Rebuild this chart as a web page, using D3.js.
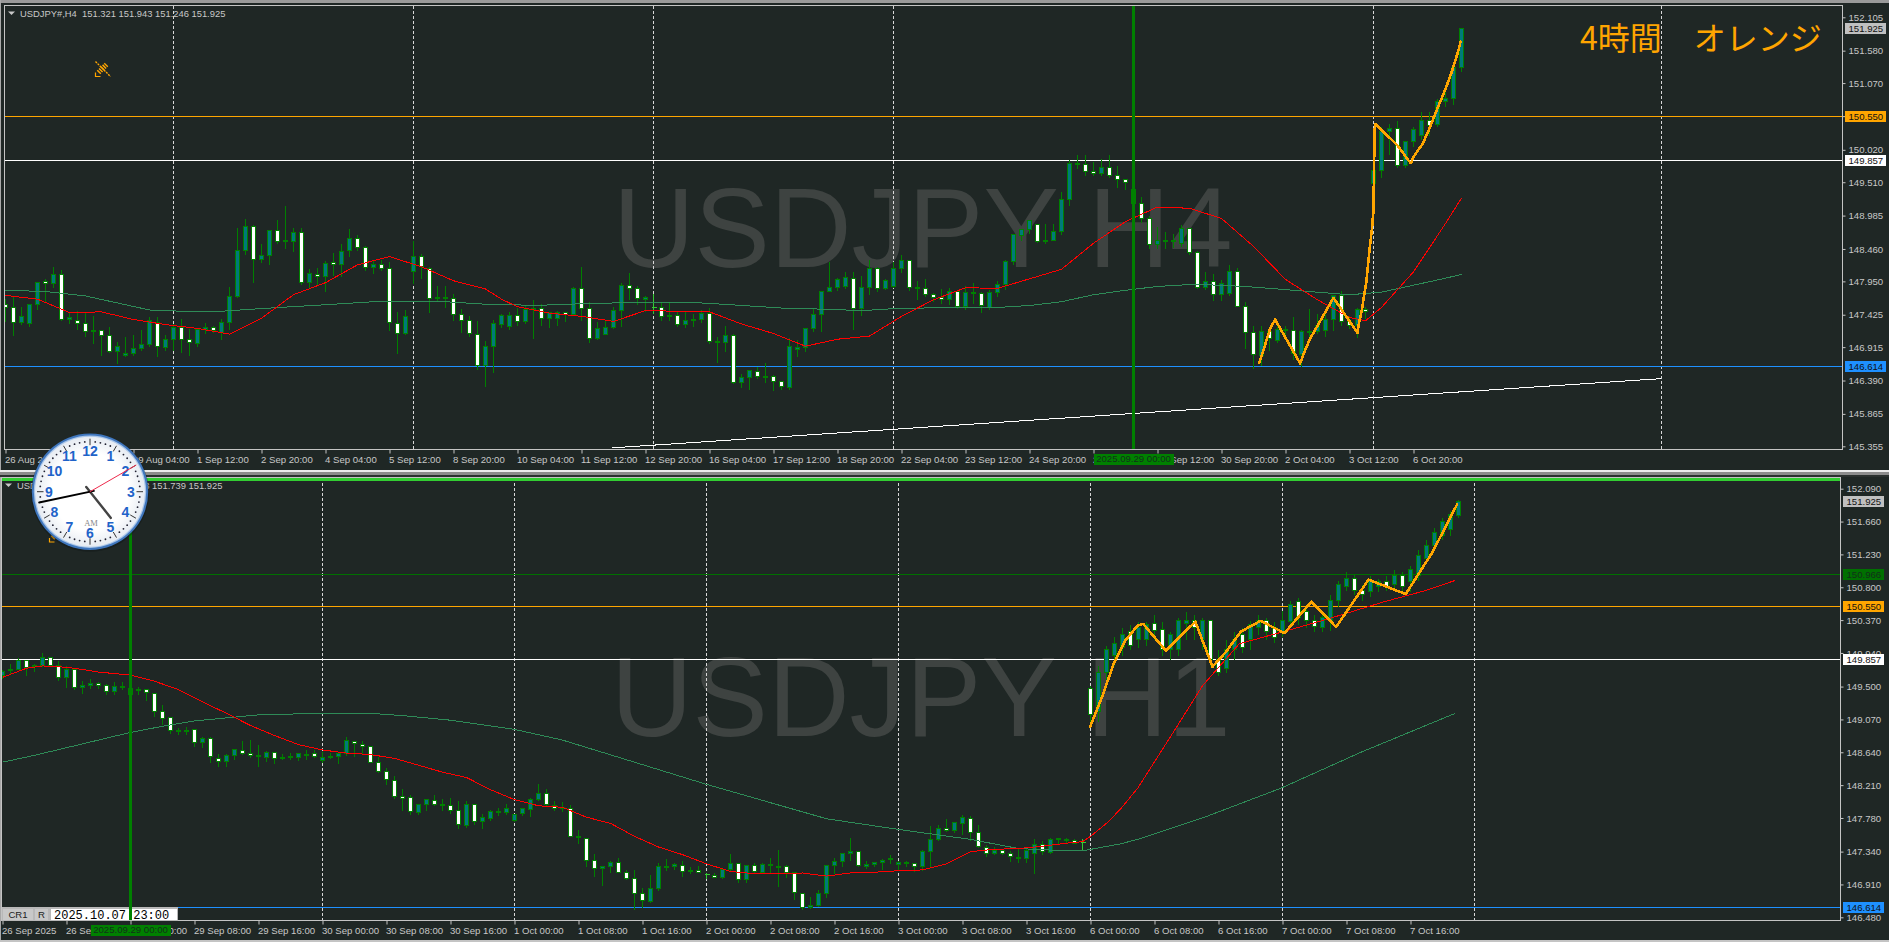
<!DOCTYPE html>
<html><head><meta charset="utf-8"><title>USDJPY H4 / H1</title>
<script src="https://cdn.jsdelivr.net/npm/d3@7"></script>
<style>
html,body{margin:0;padding:0;background:#1f2725;overflow:hidden}
svg{display:block}
text{font-family:"Liberation Sans",Arial,sans-serif}
</style></head><body><svg id="c" width="1889" height="942"></svg>
<script>
// ---- H4 panel: [open, high, low, close] per bar
const h4Candles=[
[147.58,147.68,147.32,147.54],[147.54,147.72,147.10,147.31],[147.30,147.55,147.27,147.40],[147.29,147.59,147.24,147.59],[147.59,147.95,147.50,147.94],[147.95,148.00,147.63,147.92],[147.92,148.19,147.86,148.06],[148.06,148.13,147.33,147.35],[147.35,147.47,147.28,147.38],[147.33,147.49,147.19,147.29],
[147.29,147.46,147.08,147.16],[147.16,147.41,146.98,147.18],[147.18,147.19,146.79,147.10],[147.10,147.24,146.83,146.85],[146.85,147.00,146.66,146.93],[146.78,147.09,146.77,146.82],[146.82,147.12,146.78,146.90],[146.89,147.20,146.87,146.96],[146.95,147.40,146.93,147.33],[147.31,147.39,146.77,146.92],
[146.91,147.11,146.87,147.04],[147.04,147.28,146.87,147.23],[147.22,147.37,146.83,147.04],[147.03,147.21,146.78,146.99],[146.98,147.23,146.92,147.19],[147.19,147.31,147.13,147.23],[147.22,147.25,147.14,147.18],[147.15,147.37,147.03,147.31],[147.31,147.87,147.20,147.71],[147.71,148.79,147.70,148.43],
[148.44,148.94,148.37,148.81],[148.81,148.85,147.93,148.30],[148.30,148.54,148.25,148.35],[148.35,148.77,148.22,148.75],[148.75,148.93,148.55,148.58],[148.58,149.14,148.47,148.59],[148.58,148.80,148.42,148.72],[148.72,148.80,147.90,147.94],[147.94,148.16,147.86,148.07],[148.06,148.17,147.89,148.03],
[148.03,148.28,147.79,148.23],[148.24,148.41,148.05,148.22],[148.21,148.54,148.02,148.42],[148.44,148.78,148.34,148.62],[148.62,148.68,148.43,148.49],[148.48,148.52,148.12,148.17],[148.17,148.28,148.07,148.22],[148.21,148.29,148.12,148.16],[148.15,148.26,147.18,147.30],[147.29,147.47,146.82,147.13],
[147.13,147.51,147.12,147.40],[148.11,148.59,147.91,148.34],[148.34,148.39,148.00,148.18],[148.15,148.19,147.46,147.68],[147.68,147.88,147.63,147.70],[147.68,147.88,147.54,147.70],[147.68,147.76,147.33,147.43],[147.43,147.53,147.14,147.34],[147.33,147.41,147.08,147.13],[147.12,147.34,146.56,146.63],
[146.63,147.02,146.30,146.92],[146.92,147.35,146.51,147.28],[147.27,147.45,147.23,147.42],[147.24,147.48,147.20,147.42],[147.41,147.54,147.26,147.32],[147.32,147.59,147.28,147.50],[147.50,147.66,147.05,147.52],[147.52,147.60,147.25,147.37],[147.37,147.47,147.23,147.46],[147.36,147.49,147.26,147.46],
[147.46,147.47,147.32,147.43],[147.43,147.87,147.41,147.84],[147.84,148.19,147.34,147.53],[147.52,147.63,146.99,147.05],[147.05,147.32,147.04,147.21],[147.12,147.34,147.11,147.23],[147.22,147.55,147.21,147.49],[147.49,147.93,147.24,147.89],[147.88,148.09,147.67,147.84],[147.84,147.89,147.58,147.68],
[147.66,147.72,147.47,147.69],[147.54,147.76,147.45,147.54],[147.54,147.62,147.33,147.40],[147.39,147.62,147.34,147.41],[147.41,147.47,147.24,147.27],[147.27,147.47,147.23,147.34],[147.34,147.44,147.24,147.35],[147.35,147.50,147.30,147.45],[147.44,147.54,146.98,147.01],[146.99,147.09,146.68,147.01],
[146.99,147.26,146.85,147.10],[147.10,147.13,146.35,146.36],[146.36,146.50,146.28,146.44],[146.44,146.57,146.25,146.54],[146.53,146.61,146.42,146.46],[146.45,146.68,146.36,146.46],[146.45,146.48,146.24,146.38],[146.37,146.39,146.25,146.29],[146.28,147.06,146.25,146.93],[146.88,147.03,146.77,146.91],
[146.91,147.21,146.84,147.21],[147.21,147.52,147.16,147.43],[147.43,147.80,147.16,147.79],[147.79,148.26,147.79,147.86],[147.86,148.01,147.80,147.98],[147.87,148.10,147.84,148.01],[147.99,148.10,147.19,147.53],[147.53,148.04,147.41,147.85],[147.85,148.29,147.74,148.16],[148.15,148.18,147.79,147.84],
[147.84,148.00,147.82,147.97],[147.87,148.26,147.85,148.16],[148.15,148.38,148.09,148.28],[148.28,148.30,147.80,147.86],[147.84,147.96,147.66,147.86],[147.84,147.99,147.71,147.75],[147.74,147.77,147.64,147.70],[147.69,147.83,147.60,147.67],[147.67,147.86,147.59,147.79],[147.79,147.81,147.53,147.55],
[147.55,147.89,147.51,147.78],[147.76,147.93,147.60,147.78],[147.76,147.79,147.46,147.57],[147.54,147.82,147.51,147.78],[147.77,147.96,147.71,147.90],[147.90,148.29,147.82,148.27],[148.26,148.71,148.21,148.68],[148.67,148.78,148.59,148.77],[148.76,148.92,148.70,148.90],[148.84,148.84,148.56,148.57],
[148.58,148.86,148.55,148.59],[148.59,148.86,148.59,148.74],[148.73,149.36,148.68,149.24],[149.24,149.87,149.14,149.81],[149.79,149.94,149.72,149.81],[149.79,149.95,149.62,149.68],[149.68,149.84,149.62,149.64],[149.64,149.89,149.61,149.74],[149.74,149.95,149.58,149.62],[149.61,149.78,149.42,149.56],
[149.55,149.57,149.39,149.51],[149.40,149.40,149.18,149.18],[149.17,149.28,148.87,148.94],[148.94,148.98,148.46,148.53],[148.53,148.81,148.47,148.59],[148.58,148.74,148.47,148.60],[148.58,148.70,148.49,148.60],[148.55,148.85,148.50,148.78],[148.78,148.79,148.38,148.41],[148.40,148.44,147.84,147.86],
[147.86,148.10,147.82,147.95],[147.95,148.07,147.65,147.75],[147.74,147.98,147.65,147.91],[147.76,148.22,147.72,148.10],[148.10,148.17,147.55,147.56],[147.55,147.64,146.89,147.15],[147.14,147.26,146.58,146.80],[146.79,147.26,146.62,147.16],[147.16,147.21,146.87,147.05],[147.02,147.34,146.99,147.20],
[147.19,147.26,147.03,147.20],[147.18,147.40,146.72,146.82],[146.80,147.20,146.61,147.16],[147.15,147.52,147.03,147.16],[147.16,147.45,147.13,147.26],[147.18,147.45,147.08,147.35],[147.35,147.74,147.18,147.72],[147.72,147.81,147.26,147.32],[147.32,147.41,147.21,147.26],[147.26,147.54,147.06,147.51],
[147.50,147.55,147.37,147.48],[149.49,149.73,149.47,149.70],[149.69,150.39,149.58,150.31],[150.31,150.44,149.94,150.36],[150.35,150.48,149.74,149.78],[149.77,150.17,149.74,150.15],[150.15,150.39,150.07,150.34],[150.24,150.62,150.18,150.48],[150.48,150.62,150.24,150.41],[150.42,150.83,150.39,150.78],
[150.78,151.02,150.70,150.83],[150.83,151.41,150.73,151.31],[151.321,151.943,151.246,151.925]];
const h4RedIdx=[0,4,8,12,16,20,24,28,32,36,40,44,48,52,56,60,62,64,68,72,76,80,84,88,92,96,100,104,108,112,116,120,124,128,132,136,140,144,148,152,156,160,164,168,170,172,176,180,182];
const h4RedVal=[147.73,147.67,147.46,147.47,147.35,147.27,147.21,147.12,147.37,147.74,147.93,148.21,148.34,148.18,147.96,147.83,147.67,147.55,147.45,147.40,147.32,147.49,147.48,147.47,147.28,147.13,146.93,147.04,147.09,147.40,147.66,147.85,147.84,147.99,148.14,148.55,148.89,149.12,149.10,148.94,148.50,147.98,147.66,147.38,147.33,147.54,148.10,148.86,149.26];
const h4GreenIdx=[0,5,10,14,18,22,27,33,41,46,55,60,62,66,70,76,79,87,91,97,103,107,111,118,124,128,132,136,140,144,148,152,156,160,164,168,172,176,180,182];
const h4GreenVal=[147.81,147.79,147.72,147.61,147.50,147.48,147.48,147.53,147.59,147.63,147.63,147.59,147.59,147.57,147.59,147.61,147.62,147.61,147.58,147.53,147.51,147.49,147.52,147.54,147.54,147.57,147.63,147.74,147.81,147.87,147.90,147.89,147.86,147.82,147.78,147.74,147.78,147.89,148.00,148.06];
const h4ZigIdx=[156.67,157.25,158.08,158.71,159.33,161.83,162.46,163.08,166,169,169.17,169.5,170.08,170.5,170.83,171,171.13,171.2,174,175.33,175.67,176,177.17,178.08,178.92,180.04,180.79,181.63,181.92];
const h4ZigVal=[146.65,146.87,147.21,147.35,147.21,146.66,146.87,147.05,147.69,147.14,147.28,147.47,147.92,148.44,148.81,149.07,150.28,150.43,150.09,149.86,149.81,149.91,150.12,150.38,150.65,150.99,151.25,151.59,151.74];
const h4TrendIdx=[75.8,207];
const h4TrendVal=[145.33,146.42];
const h4PriceTicks=[152.105,151.58,151.07,150.55,150.02,149.51,148.985,148.46,147.95,147.425,146.915,146.39,145.865,145.355];
const h4TimeLabels=["26 Aug 2025","28 Aug 12:00","29 Aug 04:00","1 Sep 12:00","2 Sep 20:00","4 Sep 04:00","5 Sep 12:00","8 Sep 20:00","10 Sep 04:00","11 Sep 12:00","12 Sep 20:00","16 Sep 04:00","17 Sep 12:00","18 Sep 20:00","22 Sep 04:00","23 Sep 12:00","24 Sep 20:00","26 Sep 04:00","29 Sep 12:00","30 Sep 20:00","2 Oct 04:00","3 Oct 12:00","6 Oct 20:00"];
const h4Grid=[21,51,81,111,141,171,207];
// ---- H1 panel: [open, high, low, close] per bar
const h1Candles=[
[149.64,149.72,149.61,149.70],[149.71,149.80,149.67,149.72],[149.73,149.88,149.72,149.84],[149.84,149.85,149.64,149.75],[149.76,149.80,149.70,149.78],[149.77,149.95,149.76,149.88],[149.88,149.89,149.76,149.78],[149.77,149.84,149.58,149.62],[149.62,149.78,149.49,149.73],[149.73,149.73,149.46,149.49],
[149.49,149.58,149.41,149.52],[149.51,149.60,149.48,149.54],[149.54,149.56,149.47,149.52],[149.51,149.54,149.39,149.44],[149.43,149.56,149.40,149.50],[149.49,149.56,149.46,149.50],[149.48,149.50,149.39,149.40],[149.45,149.50,149.39,149.46],[149.46,149.47,149.32,149.42],[149.41,149.41,149.11,149.18],
[149.17,149.27,149.00,149.08],[149.09,149.10,148.89,148.93],[148.92,148.97,148.87,148.93],[148.92,148.98,148.87,148.93],[148.94,148.94,148.72,148.77],[148.77,148.84,148.70,148.82],[148.82,148.84,148.50,148.58],[148.56,148.63,148.46,148.52],[148.52,148.63,148.46,148.60],[148.60,148.69,148.55,148.67],
[148.66,148.80,148.61,148.63],[148.62,148.81,148.57,148.60],[148.60,148.74,148.46,148.58],[148.57,148.66,148.52,148.64],[148.64,148.65,148.49,148.56],[148.56,148.62,148.54,148.57],[148.57,148.64,148.54,148.58],[148.57,148.64,148.53,148.63],[148.60,148.67,148.54,148.61],[148.63,148.68,148.57,148.59],
[148.53,148.65,148.50,148.57],[148.57,148.64,148.56,148.59],[148.58,148.64,148.49,148.62],[148.62,148.84,148.60,148.79],[148.78,148.79,148.59,148.75],[148.74,148.80,148.61,148.71],[148.71,148.72,148.50,148.51],[148.50,148.59,148.37,148.39],[148.39,148.44,148.22,148.29],[148.27,148.34,148.03,148.06],
[148.06,148.17,147.88,148.04],[148.05,148.09,147.83,147.86],[147.85,147.97,147.82,147.96],[147.96,148.03,147.88,148.02],[148.01,148.09,147.94,147.96],[147.95,148.03,147.88,147.96],[147.94,148.05,147.84,147.88],[147.88,148.01,147.64,147.69],[147.68,148.01,147.65,147.96],[147.95,147.96,147.69,147.74],
[147.73,147.84,147.64,147.78],[147.77,147.89,147.75,147.87],[147.85,147.92,147.81,147.87],[147.85,147.97,147.83,147.91],[147.75,147.84,147.73,147.83],[147.84,147.92,147.81,147.91],[147.89,148.05,147.80,148.02],[148.02,148.23,148.01,148.10],[148.10,148.16,147.93,147.95],[147.94,148.01,147.88,147.91],
[147.90,148.00,147.86,147.92],[147.91,147.95,147.54,147.54],[147.53,147.63,147.44,147.54],[147.51,147.52,147.15,147.23],[147.22,147.32,147.01,147.12],[147.12,147.15,146.89,147.15],[147.14,147.22,147.06,147.20],[147.20,147.26,147.06,147.07],[147.07,147.11,146.98,146.99],[146.99,147.11,146.58,146.79],
[146.79,146.87,146.61,146.70],[146.69,147.04,146.67,146.86],[146.86,147.20,146.83,147.14],[147.14,147.25,147.09,147.15],[147.14,147.20,147.10,147.17],[147.16,147.22,147.01,147.08],[147.08,147.15,147.05,147.09],[147.09,147.16,147.06,147.07],[147.035,147.07,146.99,147.035],[147.03,147.06,147.00,147.00],
[147.00,147.11,146.99,147.10],[147.10,147.32,147.09,147.19],[147.18,147.20,146.94,146.98],[146.98,147.17,146.94,147.16],[147.16,147.20,147.06,147.08],[147.07,147.20,147.06,147.17],[147.16,147.26,147.05,147.17],[147.14,147.37,146.88,147.15],[147.14,147.17,147.00,147.07],[147.06,147.07,146.71,146.80],
[146.79,146.80,146.58,146.61],[146.61,146.75,146.60,146.64],[146.63,146.85,146.62,146.79],[146.79,147.17,146.74,147.16],[147.16,147.26,147.05,147.21],[147.21,147.33,147.14,147.32],[147.32,147.52,147.22,147.34],[147.34,147.35,147.15,147.16],[147.15,147.22,147.12,147.17],[147.17,147.21,147.15,147.20],
[147.20,147.25,147.11,147.23],[147.24,147.30,147.18,147.25],[147.17,147.22,147.10,147.20],[147.18,147.23,147.15,147.20],[147.18,147.20,147.08,147.15],[147.14,147.37,147.09,147.34],[147.34,147.68,147.15,147.50],[147.50,147.69,147.49,147.64],[147.64,147.77,147.60,147.62],[147.61,147.74,147.59,147.72],
[147.71,147.82,147.57,147.78],[147.77,147.81,147.49,147.59],[147.59,147.70,147.40,147.41],[147.40,147.43,147.27,147.32],[147.31,147.41,147.30,147.35],[147.35,147.38,147.30,147.32],[147.31,147.36,147.21,147.27],[147.25,147.40,147.20,147.26],[147.25,147.41,147.20,147.35],[147.31,147.51,147.05,147.43],
[147.43,147.49,147.30,147.34],[147.33,147.52,147.32,147.50],[147.50,147.51,147.44,147.51],[147.48,147.53,147.45,147.50],[147.48,147.51,147.44,147.45],[147.46,147.51,147.36,147.46],[149.48,149.51,148.98,149.14],[149.17,149.78,149.04,149.69],[149.69,150.04,149.56,149.98],[149.91,150.16,149.78,150.07],
[150.01,150.27,149.91,150.18],[150.22,150.31,149.98,150.04],[150.11,150.35,150.01,150.27],[150.11,150.35,150.04,150.31],[150.32,150.44,150.11,150.24],[150.25,150.35,149.91,149.98],[149.98,150.22,149.85,150.18],[149.98,150.40,149.91,150.37],[150.33,150.48,150.11,150.36],[150.36,150.44,150.11,150.27],
[150.11,150.41,149.98,150.37],[150.36,150.38,149.78,149.85],[149.85,149.98,149.65,149.69],[149.74,150.11,149.69,149.98],[149.98,150.22,149.85,150.11],[150.18,150.27,149.95,150.01],[150.11,150.37,149.98,150.31],[150.27,150.44,150.18,150.37],[150.36,150.40,150.11,150.22],[150.27,150.35,150.08,150.14],
[150.22,150.50,150.16,150.37],[150.35,150.63,150.27,150.57],[150.61,150.66,150.31,150.40],[150.48,150.57,150.27,150.37],[150.37,150.44,150.22,150.28],[150.27,150.48,150.22,150.40],[150.37,150.70,150.24,150.63],[150.63,150.89,150.55,150.83],[150.81,151.00,150.76,150.92],[150.92,150.97,150.70,150.76],
[150.76,150.83,150.63,150.71],[150.74,150.95,150.68,150.89],[150.81,150.92,150.74,150.87],[150.87,150.95,150.76,150.81],[150.84,151.03,150.76,150.95],[150.95,151.00,150.76,150.81],[150.87,151.09,150.74,151.03],[150.96,151.29,150.89,151.22],[151.18,151.42,151.13,151.35],[151.34,151.58,151.29,151.52],
[151.48,151.71,151.42,151.66],[151.55,151.81,151.48,151.75],[151.739,151.943,151.71,151.925]];
const h1RedIdx=[0,3,5,7,9,12,16,19,22,25,28,31,34,37,40,43,46,49,52,55,58,61,64,67,70,73,76,79,82,85,88,91,94,97,100,103,106,109,112,115,118,121,124,127,130,133,135,136,138,139.7,141.9,146.4,150,154.6,159.8,165.2,172.7,178,181.6];
const h1RedVal=[149.62,149.74,149.77,149.76,149.74,149.69,149.65,149.57,149.46,149.30,149.15,148.99,148.86,148.74,148.67,148.63,148.61,148.56,148.47,148.38,148.31,148.15,148.02,147.94,147.92,147.79,147.71,147.54,147.40,147.30,147.18,147.08,147.05,147.05,147.06,147.02,147.06,147.07,147.09,147.10,147.18,147.34,147.37,147.38,147.41,147.45,147.47,147.54,147.71,147.89,148.17,148.91,149.51,150.06,150.21,150.37,150.61,150.76,150.89];
const h1GreenIdx=[0,4,8,16,20,24,28,32,40,46,50,56,64,70,79,88,97,103,112,121,127,133,135,139.7,141.9,150,159.8,169.8,181.6];
const h1GreenVal=[148.51,148.60,148.70,148.90,148.98,149.05,149.09,149.13,149.15,149.15,149.12,149.06,148.94,148.80,148.51,148.22,147.95,147.77,147.63,147.50,147.38,147.35,147.35,147.44,147.50,147.78,148.17,148.64,149.15];
const h1ZigIdx=[135.9,137.4,138.9,140.4,141.9,142.6,145.4,149.1,151.25,152.9,154.8,157.25,160.25,163.6,166.7,170.75,175.4,178.75,181.9];
const h1ZigVal=[148.96,149.35,149.80,150.11,150.30,150.32,149.97,150.35,149.76,149.95,150.22,150.36,150.20,150.61,150.28,150.90,150.71,151.26,151.90];
const h1PriceTicks=[152.09,151.66,151.23,150.8,150.37,149.94,149.5,149.07,148.64,148.21,147.78,147.34,146.91,146.48];
const h1TimeLabels=["26 Sep 2025","26 Sep 16:00","29 Sep 00:00","29 Sep 08:00","29 Sep 16:00","30 Sep 00:00","30 Sep 08:00","30 Sep 16:00","1 Oct 00:00","1 Oct 08:00","1 Oct 16:00","2 Oct 00:00","2 Oct 08:00","2 Oct 16:00","3 Oct 00:00","3 Oct 08:00","3 Oct 16:00","6 Oct 00:00","6 Oct 08:00","6 Oct 16:00","7 Oct 00:00","7 Oct 08:00","7 Oct 16:00"];
const h1Grid=[40,64,88,112,136,160,184];
const clockHours=[1,2,3,4,5,6,7,8,9,10,11,12];
const clockTime=[4,43,10];

const COL={bg:"#1f2725",frame:"#c4c4c4",text:"#c8c8c8",green:"#008000",teal:"#007a7a",lime:"#32cd32",orange:"#ffa500",blue:"#1e90ff",red:"#ff0000",ma:"#2e8b57",wm:"#3e4341"};
const svg=d3.select("#c");
svg.append("rect").attr("width",1889).attr("height",942).attr("fill",COL.bg);

function px(v){return Math.round(v-0.5)+0.5;}

function panel(o){
  const x=d3.scaleLinear().domain([0,1]).range([o.x0,o.x0+8]);
  const y=d3.scaleLinear().domain(o.priceDomain).range(o.priceRange);
  const clipId="clip"+o.id;
  svg.append("clipPath").attr("id",clipId).append("rect").attr("x",o.left).attr("y",o.top).attr("width",o.right-o.left).attr("height",o.bottom-o.top);
  const g=svg.append("g").attr("clip-path","url(#"+clipId+")");
  // watermark
  g.append("text").attr("x",o.wmX).attr("y",o.wmY).attr("font-size",113).attr("fill",COL.wm).text(o.wm);
  // grid
  g.append("g").selectAll("line").data(o.grid).join("line")
    .attr("x1",d=>x(d)).attr("x2",d=>x(d)).attr("y1",o.top).attr("y2",o.bottom)
    .attr("stroke","#d8d8d8").attr("stroke-dasharray","3,2").attr("shape-rendering","crispEdges");
  // horizontal level lines (the last-price marker has a badge only)
  g.append("g").selectAll("line").data(o.levels.filter(d=>!d.badgeOnly)).join("line")
    .attr("x1",o.left).attr("x2",o.right).attr("y1",d=>px(y(d.p))).attr("y2",d=>px(y(d.p)))
    .attr("stroke",d=>d.bg).attr("shape-rendering","crispEdges");
  // candles
  const c=g.append("g").selectAll("g").data(o.candles).join("g").attr("shape-rendering","crispEdges");
  c.append("line").attr("x1",(d,i)=>x(i)).attr("x2",(d,i)=>x(i))
    .attr("y1",d=>px(y(d[1]))).attr("y2",d=>px(y(d[2])))
    .attr("stroke",d=>d[0]===d[3]?COL.lime:COL.green);
  c.filter(d=>d[0]===d[3]).append("line")
    .attr("x1",function(){const i=o.candles.indexOf(d3.select(this).datum());return x(i)-2;})
    .attr("x2",function(){const i=o.candles.indexOf(d3.select(this).datum());return x(i)+3;})
    .attr("y1",d=>px(y(d[0]))).attr("y2",d=>px(y(d[0]))).attr("stroke",COL.lime);
  c.filter(d=>d[0]!==d[3]).append("rect")
    .attr("x",function(){return x(o.candles.indexOf(d3.select(this).datum()))-2;})
    .attr("width",4)
    .attr("y",d=>px(y(Math.max(d[0],d[3]))))
    .attr("height",d=>Math.max(1,px(y(Math.min(d[0],d[3])))-px(y(Math.max(d[0],d[3])))))
    .attr("fill",d=>d[3]>d[0]?COL.teal:"#ffffff").attr("stroke",COL.green);
  // moving averages
  const line=d3.line().x(d=>x(d[0])).y(d=>y(d[1]));
  const zipLine=(ix,v)=>line(ix.map((d,i)=>[d,v[i]]));
  g.append("path").attr("d",zipLine(o.greenIdx,o.greenVal)).attr("fill","none").attr("stroke",COL.ma).attr("stroke-width",1).attr("shape-rendering","crispEdges");
  g.append("path").attr("d",zipLine(o.redIdx,o.redVal)).attr("fill","none").attr("stroke",COL.red).attr("stroke-width",1).attr("shape-rendering","crispEdges");
  if(o.trendIdx) g.append("path").attr("d",zipLine(o.trendIdx,o.trendVal)).attr("fill","none").attr("stroke","#ffffff").attr("stroke-width",1).attr("shape-rendering","crispEdges");
  g.append("path").attr("d",zipLine(o.zigIdx,o.zigVal)).attr("fill","none").attr("stroke",COL.orange).attr("stroke-width",2.6).attr("stroke-linejoin","round").attr("shape-rendering","crispEdges");
  // selected time line
  const sel=x(o.selected);
  g.append("line").attr("x1",sel).attr("x2",sel).attr("y1",o.top).attr("y2",o.bottom).attr("stroke",COL.green).attr("stroke-width",3).attr("shape-rendering","crispEdges");
  const sc=o.candles[o.selected];
  g.append("rect").attr("x",sel-2.5).attr("width",5).attr("y",y(Math.max(sc[0],sc[3]))).attr("height",y(Math.min(sc[0],sc[3]))-y(Math.max(sc[0],sc[3]))).attr("fill",COL.green);
  // frame
  svg.append("path").attr("d",`M${o.left},${o.top}H${o.right}V${o.bottom}H${o.left}Z`).attr("fill","none").attr("stroke",COL.frame).attr("shape-rendering","crispEdges");
  // price axis
  const ay=d3.axisRight(y).tickValues(o.ticks).tickFormat(d3.format(".3f")).tickSize(3).tickPadding(3);
  const ga=svg.append("g").attr("transform",`translate(${o.right},0)`).call(ay);
  ga.select(".domain").remove();
  ga.selectAll("line").attr("stroke",COL.frame);
  ga.selectAll("text").attr("fill",COL.text).attr("font-size",9.6).attr("font-family","Liberation Sans");
  // price badges
  const bw=41,bh=11;
  const b=svg.append("g").selectAll("g").data(o.levels).join("g");
  b.append("rect").attr("x",o.right+2).attr("width",bw).attr("y",d=>Math.round(y(d.p)-bh/2)).attr("height",bh).attr("fill",d=>d.bg).attr("shape-rendering","crispEdges");
  b.append("text").attr("x",o.right+6).attr("y",d=>Math.round(y(d.p)-bh/2)+8.6).attr("font-size",9.6).attr("fill",d=>d.fg).text(d=>d3.format(".3f")(d.p));
  // time axis
  const at=d3.axisBottom(x).tickValues(o.labels.map((d,i)=>i*8)).tickFormat(d=>o.labels[d/8]).tickSize(4).tickPadding(3);
  const gt=svg.append("g").attr("transform",`translate(0,${o.bottom})`).call(at);
  gt.select(".domain").remove();
  gt.selectAll("line").attr("stroke",COL.frame);
  gt.selectAll("text").attr("text-anchor","start").attr("x",-1).attr("fill",COL.text).attr("font-size",9.6).attr("font-family","Liberation Sans");
  // selected time badge
  svg.append("rect").attr("x",sel-40).attr("y",o.bottom+4).attr("width",80).attr("height",11).attr("fill",COL.green).attr("shape-rendering","crispEdges");
  svg.append("text").attr("x",sel).attr("y",o.bottom+12.6).attr("text-anchor","middle").attr("font-size",9.6).attr("fill","#12301a").text(o.selectedLabel);
  // header
  svg.append("path").attr("d",`M${o.left+3.5},${o.top+6}h7l-3.5,3.5z`).attr("fill","#c8c8c8");
  svg.append("text").attr("x",o.left+15.5).attr("y",o.top+11.5).attr("font-size",9.4).attr("fill",COL.text).attr("xml:space","preserve").text(o.header);
}

panel({id:"h4",x0:5.5,left:4.5,right:1842.5,top:5.5,bottom:449.5,priceDomain:[145.355,152.105],priceRange:[446.3,17.3],
  candles:h4Candles,grid:h4Grid,selected:141,selectedLabel:"2025.09.29 00:00",
  levels:[{p:151.925,bg:"#c0c0c0",fg:"#111",badgeOnly:true},{p:150.55,bg:COL.orange,fg:"#111"},{p:149.857,bg:"#ffffff",fg:"#111"},{p:146.614,bg:COL.blue,fg:"#111"}],
  redIdx:h4RedIdx,redVal:h4RedVal,greenIdx:h4GreenIdx,greenVal:h4GreenVal,zigIdx:h4ZigIdx,zigVal:h4ZigVal,trendIdx:h4TrendIdx,trendVal:h4TrendVal,
  ticks:h4PriceTicks,labels:h4TimeLabels,wm:"USDJPY H4",wmX:613,wmY:266.5,header:"USDJPY#,H4  151.321 151.943 151.246 151.925"});

panel({id:"h1",x0:2.5,left:1.5,right:1840.5,top:477.5,bottom:920.5,priceDomain:[146.48,152.09],priceRange:[917.3,488.7],
  candles:h1Candles,grid:h1Grid,selected:16,selectedLabel:"2025.09.29 00:00",
  levels:[{p:151.925,bg:"#c0c0c0",fg:"#111",badgeOnly:true},{p:150.966,bg:"#007000",fg:"#12301a"},{p:150.55,bg:COL.orange,fg:"#111"},{p:149.857,bg:"#ffffff",fg:"#111"},{p:146.614,bg:COL.blue,fg:"#111"}],
  redIdx:h1RedIdx,redVal:h1RedVal,greenIdx:h1GreenIdx,greenVal:h1GreenVal,zigIdx:h1ZigIdx,zigVal:h1ZigVal,
  ticks:h1PriceTicks,labels:h1TimeLabels,wm:"USDJPY H1",wmX:611,wmY:736,header:"USDJPY#,H1  151.831 151.943 151.739 151.925"});

// window chrome
svg.append("rect").attr("x",0).attr("y",0).attr("width",1889).attr("height",3).attr("fill","#9a9a9a");
svg.append("rect").attr("x",0).attr("y",0).attr("width",1).attr("height",942).attr("fill","#a8a8a8");
svg.append("rect").attr("x",0).attr("y",470).attr("width",1889).attr("height",2).attr("fill","#ececec");
svg.append("rect").attr("x",0).attr("y",472).attr("width",1889).attr("height",3).attr("fill","#8c8c8c");
svg.append("rect").attr("x",0).attr("y",475).attr("width",1889).attr("height",2).attr("fill","#2a302e");
svg.append("rect").attr("x",2).attr("y",478).attr("width",1838).attr("height",3).attr("fill",COL.lime);
svg.append("rect").attr("x",0).attr("y",940).attr("width",1889).attr("height",2).attr("fill","#c4c4c4");

// top right caption
svg.append("text").attr("x",1580).attr("y",50).attr("font-size",32).attr("fill",COL.orange).attr("xml:space","preserve")
  .style("font-family",'"Noto Sans CJK JP"').text("4時間　オレンジ");

// drawing-tool icons
function icon(ox,oy){
  const i=svg.append("g").attr("transform",`translate(${ox},${oy})`).attr("stroke",COL.orange).attr("fill","none");
  i.append("path").attr("d","M0,0L15,15").attr("stroke-width",1.4).attr("stroke-dasharray","2,1");
  i.append("path").attr("d","M3,11L11,3").attr("stroke-width",5).attr("stroke-dasharray","1.5,1");
  i.append("path").attr("d","M0,11V15H5").attr("stroke-width",1.2);
}
icon(95.5,61.5);
icon(49.5,527);

// CR1 / R / date control
const ctl=svg.append("g");
ctl.append("rect").attr("x",2).attr("y",907).attr("width",176).attr("height",14).attr("fill","#b8b8b8").attr("shape-rendering","crispEdges");
ctl.append("rect").attr("x",3).attr("y",909).attr("width",30).attr("height",11).attr("fill","#c8c8c8");
ctl.append("rect").attr("x",35).attr("y",909).attr("width",13).attr("height",11).attr("fill","#c8c8c8");
ctl.append("rect").attr("x",51).attr("y",909).attr("width",126).attr("height",11).attr("fill","#ffffff");
ctl.append("text").attr("x",18).attr("y",918).attr("text-anchor","middle").attr("font-size",9.6).attr("fill","#222").text("CR1");
ctl.append("text").attr("x",41.5).attr("y",918).attr("text-anchor","middle").attr("font-size",9.6).attr("fill","#222").text("R");
ctl.append("text").attr("x",54).attr("y",918.5).attr("font-size",12).attr("fill","#000").attr("xml:space","preserve").style("font-family",'"Liberation Mono"').text("2025.10.07 23:00");
const selx=2.5+8*16;
svg.append("line").attr("x1",selx).attr("x2",selx).attr("y1",905).attr("y2",920).attr("stroke",COL.green).attr("stroke-width",3).attr("shape-rendering","crispEdges");

// clock
const cx=90,cy=491.7;
const defs=svg.append("defs");
const rg=defs.append("radialGradient").attr("id","face");
rg.append("stop").attr("offset","70%").attr("stop-color","#ffffff");
rg.append("stop").attr("offset","100%").attr("stop-color","#e6ebf2");
const clk=svg.append("g").attr("transform",`translate(${cx},${cy})`);
clk.append("circle").attr("r",59).attr("cy",1).attr("fill","#0b1110").attr("opacity",.35);
clk.append("circle").attr("r",58.2).attr("fill","#3f76bd");
clk.append("circle").attr("r",56.2).attr("fill","#a9c6ea");
clk.append("circle").attr("r",55).attr("fill","url(#face)");
const ang=d3.scaleLinear().domain([0,60]).range([0,2*Math.PI]);
const polar=(a,r)=>[r*Math.sin(a),-r*Math.cos(a)];
clk.append("g").selectAll("circle").data(d3.range(60).filter(d=>d%5)).join("circle")
  .attr("cx",d=>polar(ang(d),50)[0]).attr("cy",d=>polar(ang(d),50)[1]).attr("r",.9).attr("fill","#223");
clk.append("g").selectAll("line").data(d3.range(0,60,5)).join("line")
  .attr("x1",d=>polar(ang(d),46.5)[0]).attr("y1",d=>polar(ang(d),46.5)[1])
  .attr("x2",d=>polar(ang(d),53)[0]).attr("y2",d=>polar(ang(d),53)[1]).attr("stroke","#333").attr("stroke-width",1);
clk.append("g").selectAll("text").data(clockHours).join("text")
  .attr("x",d=>polar(ang(d*5),41)[0]).attr("y",d=>polar(ang(d*5),41)[1]+5)
  .attr("text-anchor","middle").attr("font-size",14).attr("font-weight","bold").attr("fill","#1f63c9").text(d=>d);
clk.append("text").attr("x",1).attr("y",34).attr("text-anchor","middle").attr("font-size",8.5).attr("fill","#8a8a8a").style("font-family",'"Liberation Serif"').text("AM");
const [hh,mm,ss]=clockTime;
const hand=(minPos,len,tail,w,col)=>{const a=ang(minPos);const p=polar(a,len),t=polar(a,-tail);
  clk.append("line").attr("x1",t[0]).attr("y1",t[1]).attr("x2",p[0]).attr("y2",p[1]).attr("stroke",col).attr("stroke-width",w).attr("stroke-linecap","round");};
hand((hh+mm/60)*5,33.5,6,2.4,"#444444");
hand(mm,52,4,1.9,"#000000");
hand(ss,53,0,1,"#ee2a4c");
</script></body></html>
